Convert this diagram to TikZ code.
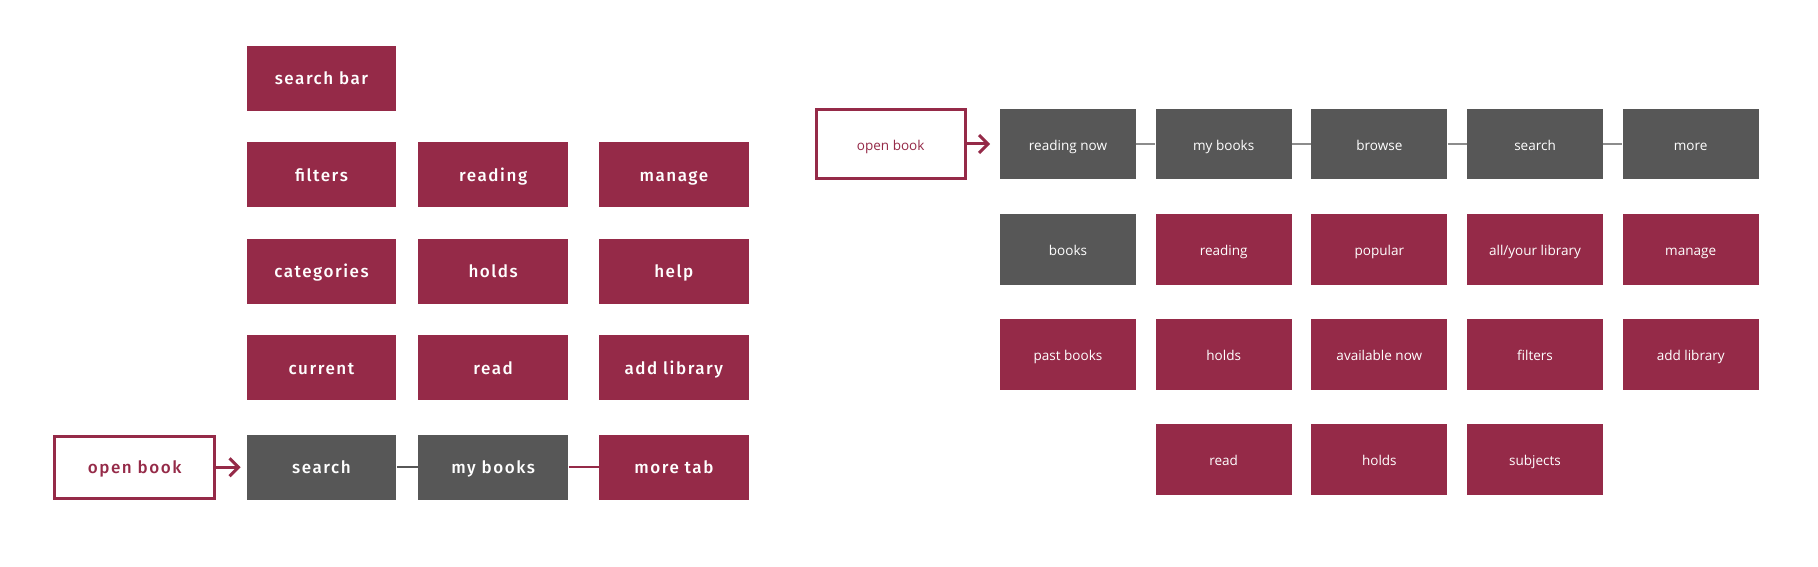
\documentclass[tikz,border=0pt]{standalone}
\usepackage{fontspec}
\newfontfamily\tabfont{Fira Sans Medium}[LetterSpace=9]
\newfontfamily\openfont{Open Sans}
\usepackage{tikz}
\usetikzlibrary{positioning, arrows.meta}
\definecolor{wine}{HTML}{952A48}
\definecolor{slate}{HTML}{575757}
\definecolor{wire}{HTML}{8C8C8C}
\tikzset{
	tab/.style={
		rectangle, fill=wine, text=white, inner sep=0pt,
		minimum width=3cm, minimum height=1.3cm,
		text height=0.3cm, text depth=0.04cm,
		font=\tabfont\fontsize{9.7}{11}\selectfont,
	},
	tabgray/.style={tab, fill=slate},
	tabstart/.style={
		tab, fill=white, draw=wine, text=wine, line width=0.06cm,
		minimum width=3.2cm, minimum height=1.24cm,
	},
	card/.style={
		rectangle, fill=wine, text=white, inner sep=0pt,
		minimum width=2.72cm, minimum height=1.42cm,
		text height=0.28cm, text depth=0.03cm,
		font=\openfont\fontsize{7.7}{9}\selectfont,
	},
	cardgray/.style={card, fill=slate},
	cardstart/.style={
		card, fill=white, draw=wine, text=wine, line width=0.06cm,
		minimum width=2.98cm, minimum height=1.38cm,
	},
	go/.style={
		draw=wine, line width=0.06cm, -{Straight Barb[length=0.18cm,width=0.36cm]},
	},
	link/.style={draw=slate, line width=0.04cm},
	linkwine/.style={draw=wine, line width=0.04cm},
	wirelink/.style={draw=wire, line width=0.05cm},
}
\begin{document}
\begin{tikzpicture}[x=0.02cm, y=-0.02cm]
				\useasboundingbox (0,0) rectangle (1818,567);
				
				\node [tab] (sbar) at (321.5,78.5) {search bar};
				\node [tab, below=0.61cm of sbar] (filters) {filters};
				\node [tab, right=0.42cm of filters] (reading) {reading};
				\node [tab, right=0.6cm of reading] (manage) {manage};
				\node [tab, below=0.62cm of filters] (categ) {categories};
				\node [tab, below=0.62cm of reading] (holds) {holds};
				\node [tab, below=0.62cm of manage] (help) {help};
				\node [tab, below=0.61cm of categ] (current) {current};
				\node [tab, below=0.61cm of holds] (read) {read};
				\node [tab, below=0.61cm of help] (addlib) {add library};
				\node [tabgray, below=0.68cm of current] (search) {search};
				\node [tabgray, right=0.42cm of search] (mybooks) {my books};
				\node [tab, right=0.6cm of mybooks] (moretab) {more tab};
				\node [tabstart, left=0.6cm of search] (open) {open book};
				
				\path [go, shorten >=0.11cm] (open) -- (search);
				\path [link] (search) -- (mybooks);
				\path [linkwine] (mybooks) -- (moretab);
				
				\node [cardgray] (rnow) at (1068,144) {reading now};
				\node [cardgray, right=0.38cm of rnow] (rmy) {my books};
				\node [cardgray, right=0.38cm of rmy] (browse) {browse};
				\node [cardgray, right=0.38cm of browse] (rsearch) {search};
				\node [cardgray, right=0.38cm of rsearch] (more) {more};
				\node [cardstart, left=0.66cm of rnow] (ropen) {open book};
				
				\node [cardgray, below=0.67cm of rnow] (books) {books};
				\node [card, below=0.67cm of rmy] (rreading) {reading};
				\node [card, below=0.67cm of browse] (popular) {popular};
				\node [card, below=0.67cm of rsearch] (yourlib) {all/your library};
				\node [card, below=0.67cm of more] (rmanage) {manage};
				
				\node [card, below=0.67cm of books] (past) {past books};
				\node [card, below=0.67cm of rreading] (rholds) {holds};
				\node [card, below=0.67cm of popular] (avail) {available now};
				\node [card, below=0.67cm of yourlib] (rfilters) {filters};
				\node [card, below=0.67cm of rmanage] (raddlib) {add library};
				
				\node [card, below=0.66cm of rholds] (rread) {read};
				\node [card, below=0.66cm of avail] (bholds) {holds};
				\node [card, below=0.66cm of rfilters] (subjects) {subjects};
				
				\path [go, shorten >=0.19cm] (ropen) -- (rnow);
				\path [wirelink] (rnow) -- (rmy);
				\path [wirelink] (rmy) -- (browse);
				\path [wirelink] (browse) -- (rsearch);
				\path [wirelink] (rsearch) -- (more);
\end{tikzpicture}
\end{document}
